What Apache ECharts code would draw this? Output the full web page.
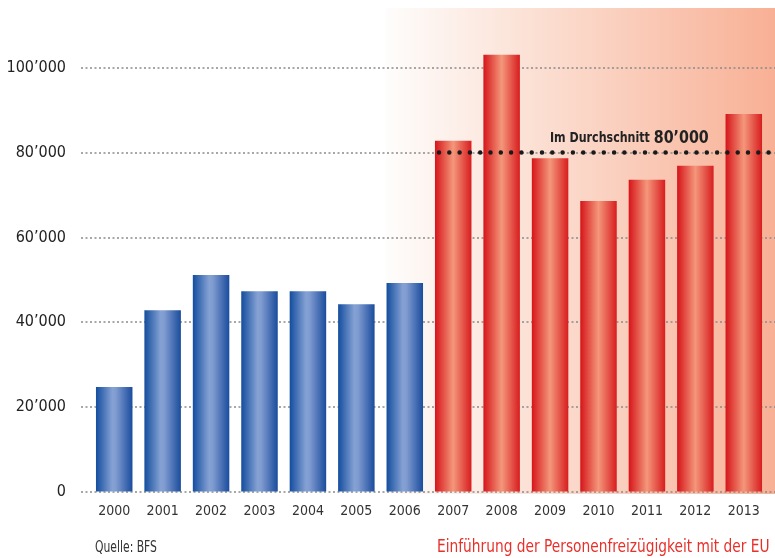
<!DOCTYPE html>
<html>
<head>
<meta charset="utf-8">
<script src="https://cdn.jsdelivr.net/npm/echarts@6/dist/echarts.min.js"></script>
<style>
html,body{margin:0;padding:0;background:#fff;}
#main{width:775px;height:558px;}
</style>
</head>
<body>
<div id="main"></div>
<script>
const years = ['2000','2001','2002','2003','2004','2005','2006','2007','2008','2009','2010','2011','2012','2013'];
const blueValues = [24700, 42800, 51100, 47300, 47300, 44200, 49200, null, null, null, null, null, null, null];
const redValues  = [null, null, null, null, null, null, null, 82800, 103100, 78700, 68600, 73600, 76900, 89100];
const averageValue = 80000;
const averageLabel = 'Im Durchschnitt ';
const averageNumber = '80’000';
const sourceText = 'Quelle: BFS';
const noteText = 'Einführung der Personenfreizügigkeit mit der EU';

const FONT = '"Liberation Sans Narrow","DejaVu Sans Condensed","Roboto Condensed",sans-serif';
const fmt = v => v === 0 ? '0' : (v/1000) + '’000';

const blueGrad = new echarts.graphic.LinearGradient(0,0,1,0,[
  {offset:0,color:'#134d9e'},{offset:0.45,color:'#86a2d4'},{offset:0.55,color:'#7f9bd0'},{offset:1,color:'#1a4c9d'}]);
const redGrad = new echarts.graphic.LinearGradient(0,0,1,0,[
  {offset:0,color:'#d6141a'},{offset:0.5,color:'#f4977a'},{offset:1,color:'#d81d1f'}]);

const chart = echarts.init(document.getElementById('main'), null, {renderer:'canvas'});
const yCommon = {type:'value', min:0, max:110000, interval:20000};
chart.setOption({
  animation:false,
  graphic:[
    {type:'rect', z:-10, shape:{x:386,y:8,width:389,height:486},
     style:{fill:new echarts.graphic.LinearGradient(0,0,1,0,[{offset:0,color:'#fefdfc'},{offset:0.3,color:'#fce6dc'},{offset:1,color:'#f8b095'}])}},
    {type:'text', x:550, y:129, scaleX:0.88, z:100,
     style:{text:'{a|'+averageLabel+'}{b|'+averageNumber+'}', rich:{
       a:{fontFamily:FONT, fontWeight:'bold', fontSize:14, fill:'#222'},
       b:{fontFamily:FONT, fontWeight:'bold', fontSize:18, fill:'#222'}}}},
    {type:'text', x:95, y:541, scaleX:0.8, style:{text:sourceText, fontFamily:FONT, fontSize:15, fill:'#333'}},
    {type:'text', x:437, y:538, scaleX:0.85, style:{text:noteText, fontFamily:FONT, fontSize:18, fill:'#e8302a'}}
  ],
  grid:[
    {left:81, right:0, top:25.6, bottom:66.5},
    {left:90, right:7, top:25.6, bottom:66.5}
  ],
  xAxis:[
    {gridIndex:0, type:'category', data:years, show:false},
    {gridIndex:1, type:'category', data:years,
     axisLine:{show:false}, axisTick:{show:false},
     axisLabel:{fontFamily:FONT, fontSize:14, color:'#333', margin:13}}
  ],
  yAxis:[
    Object.assign({gridIndex:0}, yCommon, {
      axisLine:{show:false}, axisTick:{show:false},
      axisLabel:{fontFamily:FONT, fontSize:16, color:'#222', margin:15, formatter:fmt, showMaxLabel:false},
      splitLine:{show:true, showMaxLine:false, lineStyle:{color:'#8a8a8a', width:1.5, type:[2,2.5]}}
    }),
    Object.assign({gridIndex:1}, yCommon, {show:false, splitLine:{show:false}})
  ],
  series:[
    {type:'bar', xAxisIndex:1, yAxisIndex:1, data:blueValues, barWidth:36.5, barGap:'-100%',
     itemStyle:{color:blueGrad}},
    {type:'bar', xAxisIndex:1, yAxisIndex:1, data:redValues, barWidth:36.5, barGap:'-100%',
     itemStyle:{color:redGrad},
     markLine:{silent:true, symbol:'none', z:20, label:{show:false},
       lineStyle:{color:'#1a1a1a', width:4.5, type:[0,10.3], cap:'round'},
       data:[[{x:439, yAxis:averageValue},{x:775, yAxis:averageValue}]]}}
  ]
});
</script>
</body>
</html>
